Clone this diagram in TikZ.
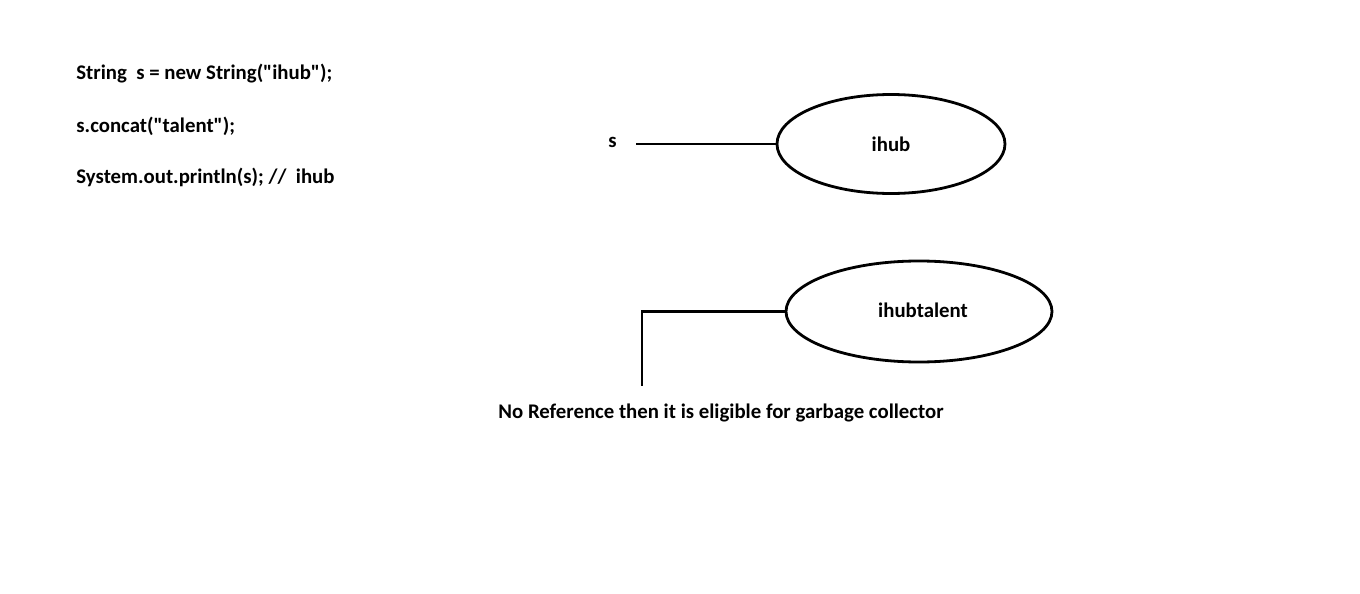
\documentclass[tikz,border=0pt]{standalone}
\usepackage{fontspec}
\setmainfont{Carlito}[Ligatures=TeXOff]
\usetikzlibrary{shapes,positioning}

\begin{document}
\begin{tikzpicture}[x=1pt,y=-1pt,line width=2.8pt,
	code/.style={anchor=base west,font=\fontsize{20.8}{24}\selectfont\bfseries,inner sep=0pt},
	obj/.style={draw,ellipse,inner sep=0pt,font=\fontsize{20.8}{24}\selectfont\bfseries}]
	\useasboundingbox (0,0) rectangle (1360,594);
	
	\node[code](L1) at (75,79) {String\ \ s = new String("ihub");};
	\node[code](L2) at (75,132) {s.concat("talent");};
	\node[code](L3) at (75,183) {System.out.println(s); //\ \ ihub};
	
	\node[code](S) at (607,147) {s};
	\coordinate (Sref) at (636,144);
	\node[obj,minimum width=228pt,minimum height=99pt](Ihub) at (891,144) {\raisebox{-2pt}{ihub}};
	\draw (Sref) -- (Ihub.west);
	
	\node[obj,minimum width=266pt,minimum height=101pt](Talent) at (919,311.5) {\raisebox{3pt}{\hspace{8pt}ihubtalent}};
	\coordinate (Free) at (642,386);
	\draw (Talent.west) -| (Free);
	
	\node[code](GC) at (497,418) {No Reference then it is eligible for garbage collector};
\end{tikzpicture}
\end{document}
